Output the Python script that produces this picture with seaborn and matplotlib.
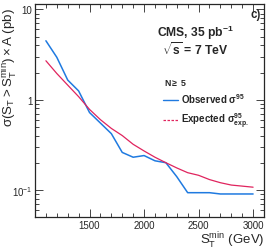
import matplotlib
matplotlib.use("Agg")
import matplotlib.pyplot as plt
from matplotlib.lines import Line2D
from matplotlib.ticker import FixedLocator, NullFormatter
import seaborn as sns
import numpy as np

# S_T^min thresholds (GeV) and limits (pb)
st_min = [1100, 1200, 1300, 1400, 1500, 1600, 1700, 1800, 1900, 2000,
          2100, 2200, 2300, 2400, 2500, 2600, 2700, 2800, 2900, 3000]
observed = [4.5, 2.95, 1.65, 1.25, 0.72, 0.55, 0.42, 0.26, 0.23, 0.24,
            0.21, 0.20, 0.14, 0.093, 0.093, 0.093, 0.09, 0.09, 0.09, 0.09]
expected = [2.7, 1.95, 1.45, 1.08, 0.78, 0.60, 0.48, 0.40, 0.32, 0.27,
            0.23, 0.20, 0.175, 0.155, 0.145, 0.13, 0.12, 0.113, 0.11, 0.107]
x_ticks = [1500, 2000, 2500, 3000]
y_ticks = [0.1, 1, 10]
y_tick_labels = [r'$10^{-1}$', '1', '10']

sns.set_style("ticks")
plt.rcParams['font.family'] = ['Liberation Sans', 'DejaVu Sans']
plt.rcParams['mathtext.fontset'] = 'custom'
plt.rcParams['mathtext.rm'] = 'Liberation Sans'
plt.rcParams['mathtext.it'] = 'Liberation Sans'
plt.rcParams['mathtext.bf'] = 'Liberation Sans:bold'
plt.rcParams['mathtext.default'] = 'regular'

blue = '#1f7ae0'
red = '#e0245e'

fig = plt.figure(figsize=(2.66, 2.51), dpi=100)
ax = fig.add_axes([0.1316, 0.1315, 0.8609, 0.8485])

sns.lineplot(x=st_min, y=observed, ax=ax, color=blue, lw=1.1)
sns.lineplot(x=st_min, y=expected, ax=ax, color=red, lw=0.9)

ax.set_yscale('log')
ax.set_xlim(1000, 3100)
ax.set_ylim(0.05, 11.5)

ax.set_xticks(x_ticks)
ax.set_xticks(np.arange(1100, 3100, 100), minor=True)
ax.yaxis.set_major_locator(FixedLocator(y_ticks))
ax.set_yticklabels(y_tick_labels)
ax.yaxis.set_minor_formatter(NullFormatter())

ax.tick_params(which='both', direction='in', top=True, right=True,
               labelsize=7, width=0.6, pad=2)
ax.tick_params(which='major', length=6)
ax.tick_params(which='minor', length=3)
for s in ax.spines.values():
    s.set_linewidth(0.9)

ax.set_xlabel(r'$S_{T}^{min}$ (GeV)', fontsize=9.5, loc='right', labelpad=0)
ax.set_ylabel(r'$\sigma(S_{T} > S_{T}^{min}) \times A$ (pb)', fontsize=9.6,
              loc='top')
ax.yaxis.set_label_coords(-0.066, 0.985)

ax.text(0.985, 0.955, 'c)', transform=ax.transAxes, ha='right', va='center',
        fontsize=8.3, fontweight='bold')
ax.text(0.70, 0.87, r'CMS, 35 pb$^{\mathbf{-1}}$', transform=ax.transAxes,
        ha='center', va='center', fontsize=8.7, fontweight='bold')
ax.text(0.70, 0.79, r'$\sqrt{\mathbf{s}}$ = 7 TeV', transform=ax.transAxes,
        ha='center', va='center', fontsize=8.7, fontweight='bold')
ax.text(0.565, 0.635, r'N$\geq$ 5', transform=ax.transAxes,
        ha='left', va='center', fontsize=6.3, fontweight='bold')

handles = [Line2D([], [], color=blue, lw=1.0),
           Line2D([], [], color=red, lw=0.9, ls=(0, (2, 1.2)))]
labels = [r'Observed $\sigma^{95}$', r'Expected $\sigma^{95}_{exp.}$']
leg = ax.legend(handles, labels, loc='upper left', bbox_to_anchor=(0.56, 0.59),
                frameon=False, fontsize=7, handlelength=1.5, handletextpad=0.3,
                labelspacing=0.6, borderaxespad=0, borderpad=0)
for t in leg.get_texts():
    t.set_fontweight('bold')

fig.savefig('out.png', dpi=100)
